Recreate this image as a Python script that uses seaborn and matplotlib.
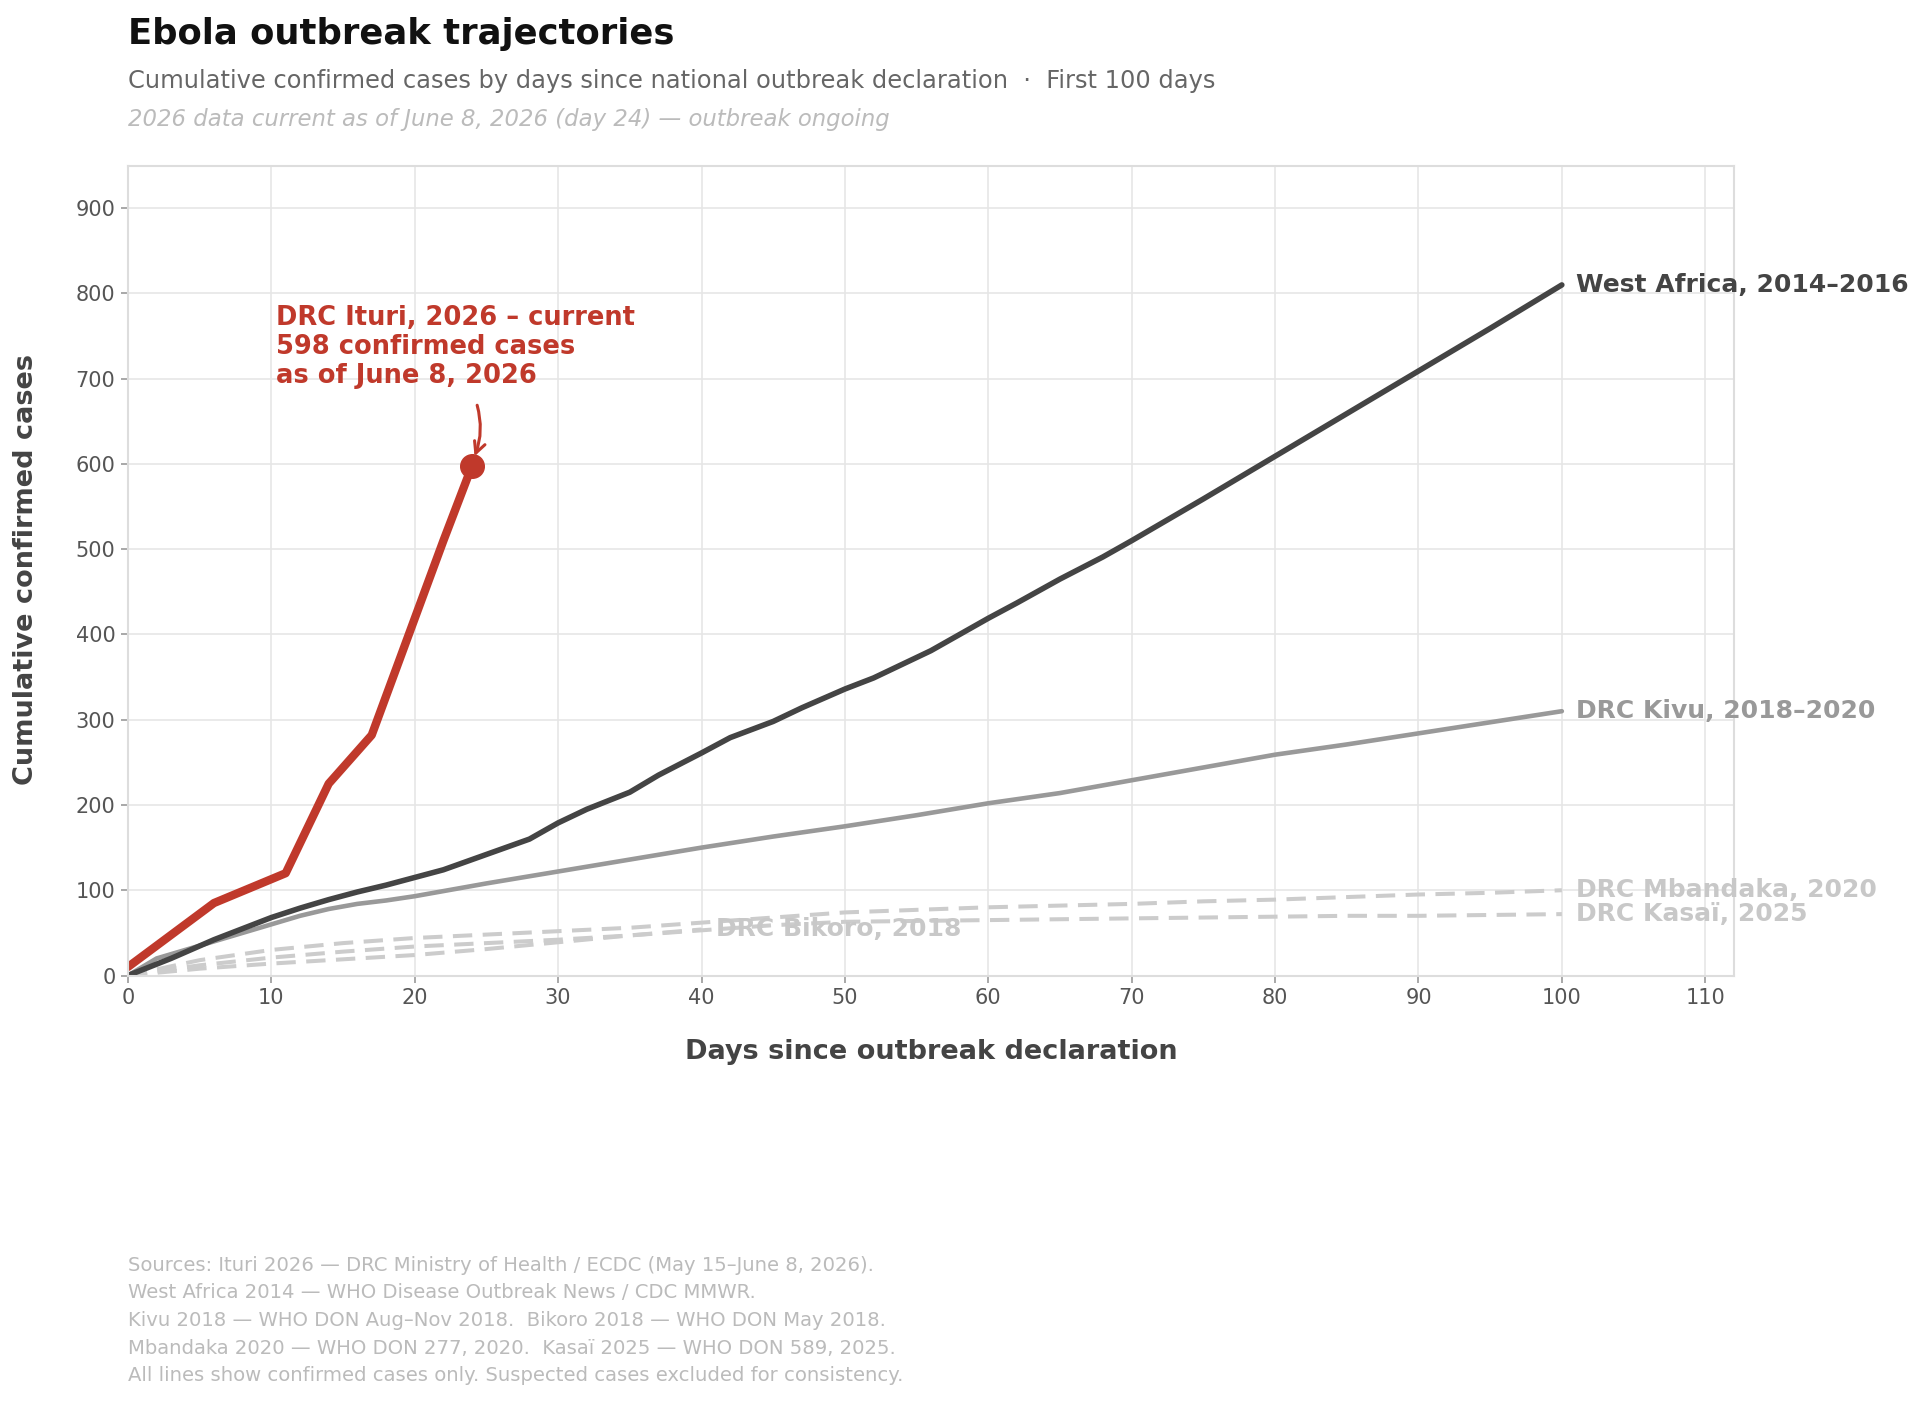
import numpy as np
import pandas as pd
import matplotlib
matplotlib.use("Agg")
import matplotlib.pyplot as plt
import seaborn as sns

# Data
ituri_days = [0, 6, 11, 14, 17, 22, 24]
ituri_cases = [10, 85, 120, 225, 282, 510, 598]

wa_days = [0, 3, 6, 8, 10, 12, 14, 16, 18, 20, 22, 24, 26, 28, 30, 32, 35, 37, 40, 42,
           45, 47, 50, 52, 54, 56, 58, 60, 62, 65, 68, 70, 75, 80, 85, 90, 95, 100]
wa_cases = [0, 20, 42, 55, 68, 79, 89, 98, 106, 115, 124, 136, 148, 160, 179, 195, 215, 235,
            261, 279, 298, 314, 336, 349, 365, 381, 400, 419, 437, 465, 491, 510, 559, 609,
            659, 709, 759, 810]

kivu_days = [0, 2, 4, 6, 8, 10, 12, 14, 16, 18, 20, 25, 30, 35, 40, 45, 50, 55, 60, 65,
             70, 75, 80, 85, 90, 95, 100]
kivu_cases = [0, 20, 30, 40, 50, 60, 70, 78, 84, 88, 93, 108, 122, 136, 150, 163, 175, 188,
              202, 214, 229, 244, 259, 271, 284, 297, 310]

mbandaka_days = [0, 5, 10, 15, 20, 25, 30, 35, 40, 45, 50, 55, 60, 65, 70, 75, 80, 85, 90, 95, 100]
mbandaka_cases = [0, 18, 30, 38, 44, 48, 52, 56, 62, 68, 74, 77, 80, 82, 84, 87, 89, 92, 95, 97, 100]

kasai_days = [0, 5, 10, 15, 20, 25, 30, 35, 40, 45, 50, 55, 60, 65, 70, 75, 80, 85, 90, 95, 100]
kasai_cases = [0, 12, 21, 28, 34, 38, 42, 47, 53, 59, 63, 64, 65, 66, 67, 68, 69, 70, 70, 71, 72]

bikoro_days = [0, 5, 10, 15, 20, 25, 30, 35, 40]
bikoro_cases = [0, 8, 14, 19, 24, 31, 39, 47, 54]

RED = "#c0392b"
DARK = "#444444"
MID = "#999999"
LIGHT = "#cccccc"
LABEL_LIGHT = "#c8c8c8"

sns.set_theme(style="whitegrid")
plt.rcParams["font.family"] = ["DejaVu Sans"]

fig = plt.figure(figsize=(19.24, 14.03), dpi=100)
ax = fig.add_axes([0.0665, 0.3047, 0.8347, 0.5773])

dash = (0, (4.8, 2.6))
sns.lineplot(x=mbandaka_days, y=mbandaka_cases, ax=ax, color=LIGHT, lw=2.9, linestyle=dash)
sns.lineplot(x=kasai_days, y=kasai_cases, ax=ax, color=LIGHT, lw=2.9, linestyle=dash)
sns.lineplot(x=bikoro_days, y=bikoro_cases, ax=ax, color=LIGHT, lw=2.9, linestyle=dash)
sns.lineplot(x=kivu_days, y=kivu_cases, ax=ax, color=MID, lw=3.3)
sns.lineplot(x=wa_days, y=wa_cases, ax=ax, color=DARK, lw=4)
sns.lineplot(x=ituri_days, y=ituri_cases, ax=ax, color=RED, lw=6)
ax.plot(ituri_days[-1], ituri_cases[-1], "o", color=RED, ms=17, zorder=5)

# end labels
lab = dict(fontsize=18, fontweight="bold", va="center", ha="left")
ax.text(wa_days[-1] + 1, wa_cases[-1], "West Africa, 2014–2016", color=DARK, **lab)
ax.text(kivu_days[-1] + 1, kivu_cases[-1], "DRC Kivu, 2018–2020", color=MID, **lab)
ax.text(mbandaka_days[-1] + 1, mbandaka_cases[-1], "DRC Mbandaka, 2020", color=LABEL_LIGHT, **lab)
ax.text(kasai_days[-1] + 1, kasai_cases[-1], "DRC Kasaï, 2025", color=LABEL_LIGHT, **lab)
ax.text(bikoro_days[-1] + 1, bikoro_cases[-1], "DRC Bikoro, 2018", color=LABEL_LIGHT, **lab)

# annotation for current outbreak
ax.text(10.3, 787, "DRC Ituri, 2026 – current\n598 confirmed cases\nas of June 8, 2026",
        color=RED, fontsize=18.5, fontweight="bold", ha="left", va="top", linespacing=1.15)
ax.annotate("", xy=(24.1, 606), xytext=(24.3, 672),
            arrowprops=dict(arrowstyle="->", color=RED, lw=2.2,
                            connectionstyle="arc3,rad=-0.18", mutation_scale=20))

ax.set_xlim(0, 112)
ax.set_ylim(0, 950)
ax.set_xticks(range(0, 111, 10))
ax.set_yticks(range(0, 901, 100))
ax.tick_params(axis="both", labelsize=15, colors="#999999",
               length=5, width=1.2, bottom=True, left=True, pad=4)
for lbl in ax.get_xticklabels() + ax.get_yticklabels():
    lbl.set_color("#555555")
ax.grid(True, color="#e6e6e6", lw=1.2)
for sp in ax.spines.values():
    sp.set_color("#dddddd")
    sp.set_linewidth(1.5)

ax.set_xlabel("Days since outbreak declaration", fontsize=19.5, fontweight="bold", color=DARK)
ax.xaxis.set_label_coords(0.5, -0.079)
fig.text(26 / 1924, 1 - 570 / 1403, "Cumulative confirmed cases", rotation=90,
         fontsize=19.5, fontweight="bold", color=DARK, ha="center", va="center")
ax.set_ylabel("")

# titles
fig.text(128 / 1924, 1 - 44 / 1403, "Ebola outbreak trajectories", fontsize=25.5,
         fontweight="bold", color="#111111", ha="left", va="baseline")
fig.text(128 / 1924, 1 - 88 / 1403,
         "Cumulative confirmed cases by days since national outbreak declaration  ·  First 100 days",
         fontsize=17.35, color="#666666", ha="left", va="baseline")
fig.text(128 / 1924, 1 - 126 / 1403,
         "2026 data current as of June 8, 2026 (day 24) — outbreak ongoing",
         fontsize=16.4, style="italic", color="#bbbbbb", ha="left", va="baseline")

footer = [
    "Sources: Ituri 2026 — DRC Ministry of Health / ECDC (May 15–June 8, 2026).",
    "West Africa 2014 — WHO Disease Outbreak News / CDC MMWR.",
    "Kivu 2018 — WHO DON Aug–Nov 2018.  Bikoro 2018 — WHO DON May 2018.",
    "Mbandaka 2020 — WHO DON 277, 2020.  Kasaï 2025 — WHO DON 589, 2025.",
    "All lines show confirmed cases only. Suspected cases excluded for consistency.",
]
for i, line in enumerate(footer):
    fig.text(128 / 1924, 1 - (1271 + i * 27.5) / 1403, line, fontsize=14.1,
             color="#bbbbbb", ha="left", va="baseline")

fig.savefig("out.png", dpi=100)
